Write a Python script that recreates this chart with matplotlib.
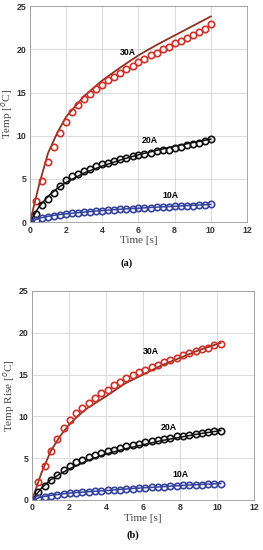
import matplotlib
matplotlib.use('Agg')
import matplotlib.pyplot as plt

# sample times for the measured points
t_a = [0, 0.33, 0.67, 1.0, 1.33, 1.67, 2.0, 2.33, 2.67, 3.0, 3.33, 3.67, 4.0, 4.33, 4.67, 5.0,
       5.33, 5.67, 6.0, 6.33, 6.67, 7.0, 7.33, 7.67, 8.0, 8.33, 8.67, 9.0, 9.33, 9.67, 10.0]
t_b = [0, 0.34, 0.68, 1.02, 1.36, 1.7, 2.04, 2.38, 2.72, 3.06, 3.4, 3.74, 4.08, 4.42, 4.76, 5.1,
       5.44, 5.78, 6.12, 6.46, 6.8, 7.14, 7.48, 7.82, 8.16, 8.5, 8.84, 9.18, 9.52, 9.86, 10.2]

# (a) measured points
a30 = [0, 2.5, 4.8, 7.0, 8.7, 10.3, 11.6, 12.7, 13.5, 14.2, 14.8, 15.4, 15.9, 16.4, 16.8, 17.3,
       17.7, 18.1, 18.5, 18.9, 19.3, 19.6, 20.0, 20.3, 20.7, 21.0, 21.3, 21.7, 22.0, 22.4, 22.9]
a20 = [0, 1.0, 2.0, 2.7, 3.4, 4.2, 4.9, 5.3, 5.6, 5.9, 6.2, 6.5, 6.7, 6.9, 7.1, 7.3,
       7.4, 7.6, 7.75, 7.9, 8.0, 8.2, 8.3, 8.4, 8.6, 8.7, 8.9, 9.0, 9.2, 9.4, 9.6]
a10 = [0, 0.3, 0.5, 0.65, 0.75, 0.85, 0.95, 1.02, 1.1, 1.15, 1.22, 1.28, 1.33, 1.38, 1.43, 1.48,
       1.52, 1.56, 1.6, 1.64, 1.68, 1.72, 1.75, 1.79, 1.82, 1.86, 1.89, 1.93, 1.96, 2.0, 2.05]
# (a) model curves
ta_line = [0, 0.5, 1.0, 1.5, 2.0, 3.0, 4.0, 5.0, 6.0, 7.0, 8.0, 9.0, 10.0]
a30_line = [0, 4.3, 8.0, 10.3, 12.2, 14.6, 16.4, 17.9, 19.3, 20.5, 21.6, 22.7, 23.8]
a20_line = [0, 1.8, 3.0, 3.9, 4.6, 5.7, 6.5, 7.2, 7.8, 8.3, 8.8, 9.2, 9.6]
a10_line = [0, 0.45, 0.68, 0.85, 0.97, 1.17, 1.35, 1.5, 1.62, 1.74, 1.84, 1.95, 2.05]

# (b) measured points
b30 = [0, 2.2, 4.1, 5.9, 7.3, 8.6, 9.6, 10.4, 11.0, 11.6, 12.2, 12.8, 13.2, 13.7, 14.1, 14.6,
       15.0, 15.3, 15.6, 15.9, 16.2, 16.5, 16.8, 17.0, 17.3, 17.6, 17.8, 18.0, 18.2, 18.5, 18.7]
b20 = [0, 1.0, 1.7, 2.4, 3.0, 3.6, 4.1, 4.5, 4.8, 5.1, 5.4, 5.6, 5.8, 6.0, 6.2, 6.4,
       6.6, 6.75, 6.9, 7.05, 7.2, 7.3, 7.45, 7.6, 7.7, 7.8, 7.9, 8.0, 8.1, 8.2, 8.3]
b10 = [0, 0.25, 0.4, 0.5, 0.6, 0.7, 0.8, 0.88, 0.95, 1.0, 1.05, 1.1, 1.15, 1.2, 1.25, 1.3,
       1.35, 1.4, 1.45, 1.5, 1.55, 1.6, 1.65, 1.7, 1.73, 1.76, 1.8, 1.84, 1.88, 1.92, 1.96]
# (b) model curves
tb_line = [0, 0.5, 1.0, 1.5, 2.0, 2.5, 3.0, 4.0, 5.0, 6.0, 7.0, 8.0, 9.0, 10.2]
b30_line = [0, 3.2, 5.8, 7.6, 9.0, 10.1, 11.0, 12.4, 13.9, 15.0, 16.1, 17.0, 17.9, 18.8]
b20_line = [0, 1.4, 2.4, 3.1, 3.7, 4.2, 4.7, 5.5, 6.1, 6.6, 7.1, 7.5, 7.9, 8.3]
b10_line = [0, 0.35, 0.55, 0.68, 0.82, 0.9, 0.98, 1.12, 1.3, 1.45, 1.58, 1.72, 1.84, 1.96]

labels = ['30A', '20A', '10A']
red, black, blue = '#d0302a', '#111111', '#34429e'
brown = '#8c3322'

fig = plt.figure(figsize=(2.63, 5.5), dpi=100)
ax1 = fig.add_axes([0.114, 0.596, 0.825, 0.393])
ax2 = fig.add_axes([0.122, 0.091, 0.844, 0.380])


def style(ax, ylabel):
    ax.set_xlim(0, 12)
    ax.set_ylim(0, 25)
    ax.set_xticks(range(0, 13, 2))
    ax.set_yticks(range(0, 26, 5))
    ax.grid(True, color='#d4d4d4', linewidth=0.6)
    ax.set_axisbelow(True)
    for s in ax.spines.values():
        s.set_color('#999999')
        s.set_linewidth(0.6)
    ax.tick_params(length=0, labelsize=6.3, colors='#333333', pad=2.5)
    for lab in ax.get_xticklabels() + ax.get_yticklabels():
        lab.set_fontweight('bold')
        lab.set_family('Liberation Sans')
    ax.set_xlabel('Time [s]', family='Liberation Serif', fontsize=8, color='#444444', labelpad=1)
    ax.set_ylabel(ylabel, family='Liberation Serif', fontsize=8, color='#444444', labelpad=1)


mk = dict(linestyle='none', marker='o', markersize=4.6, markerfacecolor='none', markeredgewidth=1.2)

ax1.plot(ta_line, a30_line, color=brown, lw=1.3)
ax1.plot(ta_line, a20_line, color=black, lw=1.1)
ax1.plot(ta_line, a10_line, color=blue, lw=1.1)
ax1.plot(t_a, a30, markeredgecolor=red, **mk)
ax1.plot(t_a, a20, markeredgecolor=black, **mk)
ax1.plot(t_a, a10, markeredgecolor=blue, **mk)
for txt, x, y in zip(labels, [5.4, 6.6, 7.8], [19.6, 9.5, 3.1]):
    ax1.text(x, y, txt, fontsize=6.3, fontweight='bold', ha='center', va='center', family='Liberation Sans')
style(ax1, 'Temp [$^o$C]')

ax2.plot(tb_line, b30_line, color=brown, lw=1.3)
ax2.plot(tb_line, b20_line, color=black, lw=1.1)
ax2.plot(tb_line, b10_line, color=blue, lw=1.1)
ax2.plot(t_b, b30, markeredgecolor=red, **mk)
ax2.plot(t_b, b20, markeredgecolor=black, **mk)
ax2.plot(t_b, b10, markeredgecolor=blue, **mk)
for txt, x, y in zip(labels, [6.4, 7.4, 8.0], [17.8, 8.7, 3.0]):
    ax2.text(x, y, txt, fontsize=6.3, fontweight='bold', ha='center', va='center', family='Liberation Sans')
style(ax2, 'Temp Rise [$^o$C]')

fig.text(0.483, 1 - 263 / 550, '(a)', ha='center', va='center', family='Liberation Serif',
         fontweight='bold', fontsize=7.5)
fig.text(0.506, 1 - 535 / 550, '(b)', ha='center', va='center', family='Liberation Serif',
         fontweight='bold', fontsize=7.5)

fig.savefig('out.png', dpi=100)
